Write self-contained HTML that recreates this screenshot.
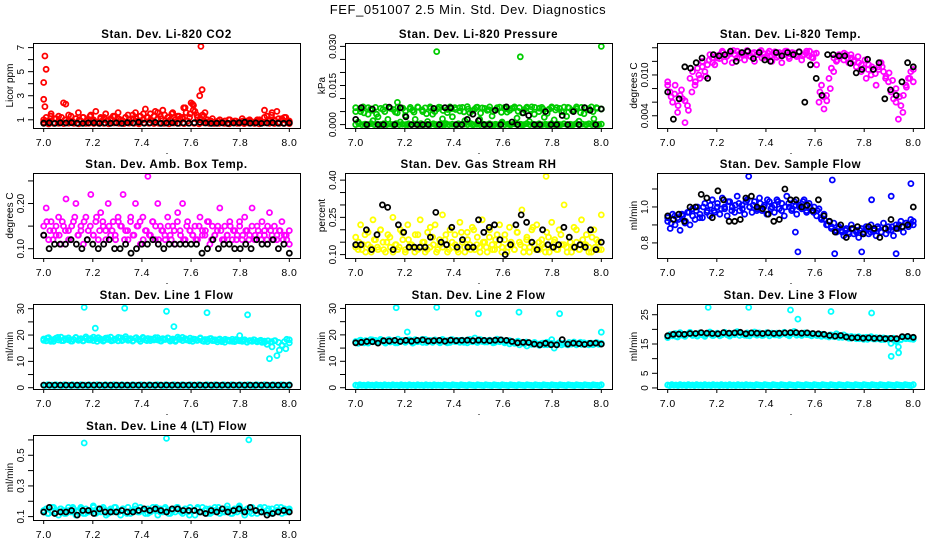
<!DOCTYPE html>
<html><head><meta charset="utf-8">
<style>
html,body{margin:0;padding:0;background:#fff;}
svg{display:block;font-family:"Liberation Sans",Arial,sans-serif;}
</style></head>
<body>
<svg id="chart" width="936" height="540" viewBox="0 0 936 540">
<text x="468" y="14" text-anchor="middle" font-size="13" letter-spacing="0.6">FEF_051007  2.5 Min. Std. Dev. Diagnostics</text>
</svg>
<script>
// ---- x axis ----
const xTicks = [7.0, 7.2, 7.4, 7.6, 7.8, 8.0];
const xTickLabels = ["7.0", "7.2", "7.4", "7.6", "7.8", "8.0"];

// ---- panel 1: CO2 ----
const co2Main = [0.8,1.2,0.9,1.5,0.7,1.1,1.3,0.8,2.4,1.0,0.9,1.3,0.8,1.1,1.6,0.9,1.2,0.7,1.0,1.4,0.9,1.7,0.8,1.2,1.0,1.5,0.9,1.1,1.3,0.8,1.6,1.0,0.9,1.2,1.4,0.8,1.1,1.6,0.9,1.3,1.0,1.9,1.2,1.5,0.9,1.7,1.1,1.3,1.8,0.9,1.2,1.0,1.6,0.8,1.3,1.1,1.2,2.0,0.9,1.5,2.3,1.7,1.2,1.0,1.4,1.6,0.8,0.9,1.1,0.8,0.7,1.0,0.8,0.9,0.7,1.0,0.8,0.9,0.7,0.8,1.1,0.8,0.9,1.0,0.8,0.7,0.9,1.0,0.8,1.8,1.3,0.9,1.6,1.0,1.7,0.8,1.1,1.2,0.9,0.8];
const co2Main2 = [1.0,0.9,1.3,1.1,0.8,1.2,1.0,1.4,0.9,1.1,1.0,1.2,0.9,1.3,1.0,0.8,1.1,1.2,0.9,1.0,1.3,1.1,0.9,1.2,1.0,1.4,1.1,0.9,1.5,1.2,1.0,1.3,1.6,1.1,1.4,1.2,1.5,1.0,1.3,1.1,1.6,1.2,1.8,1.4,1.1,1.3,1.0,0.9,0.8,0.9,0.8,0.9,1.0,0.8,0.9,0.8,0.9,0.8,0.9,0.8,1.0,0.9,1.2,1.0,1.4,0.9,1.1,1.0,1.2,0.9];
const co2Low = [0.7,0.65,0.75,0.7,0.68,0.72,0.7,0.66,0.74,0.7,0.69,0.71,0.7,0.67,0.73,0.7,0.68,0.72,0.7,0.66,0.74,0.7,0.69,0.71,0.7,0.67,0.73,0.7,0.68,0.72,0.7,0.66,0.74,0.7,0.69,0.71,0.7,0.67,0.73,0.7,0.68,0.72,0.7,0.66,0.74,0.7,0.69,0.71,0.7,0.68];
const co2Black = [0.72,0.75,0.7,0.74,0.73,0.76,0.72,0.7,0.74,0.75,0.71,0.73,0.72,0.74,0.7,0.76,0.73,0.8,0.72,0.74,0.78,0.71,0.73,0.75,0.7,0.74,0.72,0.76,0.78,0.73,0.7,0.72,0.74,0.71,0.73,0.75,0.8,0.72,0.74,0.7,0.73,0.76,0.72,0.71,0.74];
const co2OutX = [7.0, 7.005, 7.01, 7.0, 7.005, 7.09, 7.64, 7.645, 7.635, 7.6, 7.57, 7.61];
const co2OutY = [2.7, 6.3, 5.2, 4.1, 2.1, 2.3, 7.1, 3.5, 3.0, 2.4, 2.0, 2.2];

// ---- panel 2: pressure ----
const presMain = [0.0065,0.001,0.005,0.0068,0.0,0.004,0.006,0.0015,0.0066,0.003,0.0,0.0058,0.0068,0.002,0.0062,0.0,0.0048,0.0067,0.001,0.0063,0.0035,0.0,0.0066,0.0055,0.002,0.0068,0.0,0.005,0.0064,0.0012,0.0068,0.004,0.0,0.0061,0.0066,0.0022,0.0,0.0058,0.0068,0.003,0.0065,0.0,0.0052,0.0066,0.0015,0.0069,0.0045,0.0,0.006,0.0067,0.002,0.0064,0.0,0.0055,0.0068,0.0033,0.0,0.0063,0.0067,0.001,0.0066,0.0048,0.0,0.0062,0.0068,0.0025,0.0065,0.0,0.0057,0.0067,0.0012,0.0068,0.004,0.0,0.0063,0.0066,0.0028,0.0,0.0059,0.0068,0.0018,0.0065,0.0,0.005,0.0067,0.0032,0.0064,0.0,0.0056,0.0068,0.0013,0.0066,0.0042,0.0,0.0061,0.0068,0.0022,0.0065,0.0,0.006];
const presMain2 = [0.005,0.006,0.0045,0.0065,0.0055,0.004,0.0062,0.005,0.0066,0.0058,0.0045,0.0064,0.0052,0.006,0.0048,0.0066,0.0056,0.0042,0.0063,0.005,0.0067,0.0054,0.0046,0.0061,0.0058,0.0065,0.0049,0.006,0.0053,0.0066,0.0044,0.0062,0.0057,0.005,0.0065,0.0047,0.006,0.0055,0.0064,0.0051,0.0045,0.0063,0.0058,0.0066,0.005,0.006,0.0043,0.0064,0.0056,0.0062,0.0049,0.0066,0.0053,0.0061,0.0046,0.0065,0.0057,0.005,0.0063,0.006];
const presZero = [0.0,0.0003,0.0,0.0002,0.0,0.0004,0.0,0.0001,0.0,0.0003,0.0,0.0002,0.0,0.0004,0.0,0.0001,0.0,0.0003,0.0,0.0002,0.0,0.0004,0.0,0.0001,0.0,0.0003,0.0,0.0002,0.0,0.0004,0.0,0.0001,0.0,0.0003,0.0,0.0002,0.0,0.0004,0.0,0.0001,0.0,0.0002,0.0,0.0003,0.0,0.0001,0.0,0.0004,0.0,0.0002,0.0,0.0003,0.0,0.0001,0.0,0.0004,0.0,0.0002,0.0,0.0003,0.0,0.0001,0.0,0.0004,0.0,0.0002,0.0,0.0003,0.0,0.0001,0.0,0.0004,0.0,0.0002,0.0,0.0003,0.0,0.0001,0.0,0.0002];
const presBlack = [0.002,0.0065,0.0,0.006,0.0,0.0,0.0067,0.0,0.0065,0.003,0.0,0.0,0.0,0.0,0.0062,0.0,0.0065,0.0065,0.0,0.0,0.002,0.004,0.0015,0.0,0.0,0.0055,0.0,0.0068,0.001,0.0,0.0045,0.0035,0.0,0.0,0.005,0.0,0.0,0.0035,0.0,0.005,0.0,0.0065,0.0055,0.0,0.006];
const presOutX = [7.33, 7.67, 8.0, 7.17];
const presOutY = [0.028, 0.026, 0.030, 0.0085];

// ---- panel 3: Li-820 temp ----
const tempMain = [0.009,0.0075,0.006,0.0085,0.0045,0.007,0.0065,0.003,0.0055,0.0095,0.0105,0.0085,0.011,0.0095,0.012,0.0105,0.0115,0.013,0.0125,0.0115,0.0125,0.013,0.0135,0.012,0.0128,0.0132,0.0118,0.013,0.0135,0.0125,0.013,0.0122,0.0136,0.0128,0.0132,0.012,0.013,0.0134,0.0125,0.0131,0.0128,0.0135,0.012,0.013,0.0126,0.0133,0.0118,0.013,0.0135,0.0124,0.013,0.0132,0.0127,0.0134,0.0122,0.013,0.0135,0.0128,0.0126,0.0131,0.0115,0.006,0.0085,0.005,0.007,0.0095,0.011,0.0125,0.012,0.013,0.0128,0.0122,0.013,0.0118,0.0125,0.012,0.0112,0.0118,0.0105,0.011,0.0095,0.0115,0.01,0.0108,0.0085,0.0112,0.0118,0.0105,0.0098,0.009,0.0075,0.0065,0.006,0.0035,0.0055,0.007,0.0085,0.0095,0.0105,0.009];
const tempMain2 = [0.0085,0.0068,0.0072,0.0055,0.0078,0.0062,0.0048,0.0075,0.009,0.01,0.0112,0.0098,0.0122,0.0118,0.0128,0.0124,0.0133,0.0127,0.0131,0.0136,0.0125,0.0132,0.0129,0.0134,0.0127,0.0133,0.013,0.0136,0.0126,0.0132,0.0129,0.0134,0.0128,0.0131,0.0135,0.0127,0.0133,0.0129,0.0134,0.0128,0.0132,0.0135,0.0125,0.0132,0.0075,0.0068,0.0062,0.008,0.0105,0.0122,0.0129,0.0132,0.0125,0.013,0.0122,0.0127,0.0115,0.0122,0.0108,0.0112,0.0102,0.0108,0.0112,0.0095,0.0103,0.0092,0.008,0.0068,0.0045,0.0082,0.0095,0.0108];
const tempBlack = [0.0075,0.0035,0.0065,0.0112,0.011,0.0118,0.0125,0.0095,0.013,0.0128,0.013,0.0135,0.012,0.0133,0.0135,0.0124,0.0133,0.0122,0.012,0.0133,0.0128,0.0133,0.013,0.0134,0.006,0.0115,0.0095,0.007,0.013,0.013,0.0128,0.0128,0.0117,0.0103,0.0108,0.0123,0.0108,0.0118,0.0065,0.0078,0.007,0.009,0.0118,0.0112];

// ---- panel 4: amb box temp ----
const ambMain = [0.15,0.19,0.12,0.16,0.14,0.13,0.17,0.11,0.15,0.21,0.14,0.12,0.16,0.2,0.13,0.15,0.11,0.17,0.14,0.22,0.13,0.16,0.12,0.18,0.15,0.14,0.2,0.13,0.16,0.12,0.17,0.15,0.22,0.14,0.12,0.16,0.13,0.2,0.15,0.11,0.17,0.14,0.26,0.13,0.16,0.12,0.2,0.15,0.14,0.12,0.17,0.13,0.15,0.11,0.18,0.14,0.2,0.12,0.16,0.14,0.13,0.15,0.12,0.17,0.14,0.13,0.16,0.11,0.15,0.13,0.14,0.19,0.12,0.15,0.13,0.16,0.12,0.14,0.13,0.15,0.12,0.17,0.14,0.13,0.19,0.12,0.15,0.13,0.16,0.14,0.12,0.18,0.13,0.15,0.12,0.14,0.16,0.13,0.12,0.11];
const ambMain2 = [0.13,0.16,0.14,0.12,0.15,0.13,0.16,0.14,0.12,0.15,0.17,0.13,0.14,0.16,0.12,0.15,0.13,0.17,0.14,0.16,0.12,0.15,0.14,0.13,0.16,0.15,0.12,0.14,0.17,0.13,0.15,0.16,0.12,0.14,0.13,0.16,0.15,0.12,0.14,0.13,0.15,0.12,0.14,0.16,0.13,0.12,0.15,0.14,0.13,0.12,0.15,0.13,0.14,0.16,0.12,0.13,0.15,0.14,0.12,0.13,0.15,0.14,0.12,0.16,0.13,0.14,0.12,0.15,0.13,0.14,0.12,0.13,0.15,0.14,0.12,0.13,0.14,0.12,0.13,0.14];
const ambBlack = [0.13,0.1,0.11,0.11,0.11,0.12,0.11,0.1,0.12,0.11,0.1,0.11,0.12,0.1,0.1,0.11,0.09,0.1,0.11,0.11,0.12,0.11,0.1,0.11,0.11,0.11,0.11,0.11,0.11,0.09,0.1,0.12,0.1,0.11,0.11,0.1,0.1,0.11,0.1,0.12,0.11,0.11,0.12,0.1,0.11,0.09];

// ---- panel 5: gas stream RH ----
const rhMain = [0.17,0.12,0.22,0.14,0.11,0.19,0.13,0.24,0.16,0.12,0.2,0.15,0.11,0.18,0.13,0.25,0.14,0.12,0.2,0.16,0.11,0.22,0.14,0.13,0.18,0.12,0.24,0.15,0.11,0.19,0.13,0.17,0.22,0.12,0.14,0.26,0.16,0.11,0.2,0.13,0.18,0.12,0.23,0.15,0.11,0.19,0.14,0.21,0.12,0.17,0.13,0.24,0.15,0.11,0.2,0.14,0.12,0.18,0.22,0.13,0.16,0.11,0.21,0.14,0.12,0.19,0.15,0.28,0.13,0.17,0.11,0.2,0.14,0.22,0.12,0.16,0.13,0.19,0.11,0.23,0.15,0.12,0.2,0.14,0.3,0.13,0.17,0.11,0.21,0.15,0.12,0.24,0.14,0.18,0.13,0.11,0.2,0.16,0.12,0.26];
const rhMain2 = [0.13,0.15,0.12,0.18,0.14,0.11,0.16,0.13,0.2,0.12,0.15,0.17,0.11,0.14,0.13,0.19,0.12,0.16,0.14,0.11,0.18,0.13,0.15,0.12,0.21,0.14,0.11,0.16,0.13,0.18,0.12,0.15,0.14,0.11,0.19,0.13,0.16,0.12,0.2,0.14,0.11,0.15,0.13,0.17,0.12,0.16,0.14,0.11,0.18,0.13,0.15,0.12,0.19,0.14,0.11,0.16,0.13,0.21,0.12,0.15,0.14,0.11,0.17,0.13,0.16,0.12,0.18,0.14,0.11,0.15,0.13,0.2,0.12,0.16,0.14,0.11,0.17,0.13,0.15,0.12];
const rhBlack = [0.14,0.14,0.2,0.12,0.18,0.3,0.29,0.12,0.22,0.19,0.13,0.13,0.13,0.13,0.17,0.27,0.15,0.14,0.21,0.13,0.16,0.13,0.13,0.24,0.19,0.21,0.22,0.16,0.1,0.14,0.22,0.26,0.23,0.15,0.12,0.2,0.14,0.13,0.14,0.21,0.17,0.13,0.14,0.13,0.2,0.12,0.15];
const rhOutX = [7.775];
const rhOutY = [0.415];

// ---- panel 6: sample flow ----
const flowMain = [0.92,0.88,0.96,0.9,0.94,0.87,0.95,0.91,0.97,0.9,0.99,0.93,1.0,0.96,0.94,1.02,0.98,0.95,1.04,0.97,1.0,0.96,1.05,0.99,0.95,1.03,1.0,0.97,1.06,0.98,1.01,0.96,1.04,1.0,0.97,1.03,0.99,1.05,0.98,1.01,0.96,1.03,1.0,0.97,1.04,0.99,1.02,0.95,1.06,1.0,0.98,1.03,0.96,1.01,0.99,1.04,0.97,1.02,0.98,1.0,0.95,0.99,0.93,0.96,0.9,0.92,0.88,0.91,0.86,0.89,0.87,0.84,0.88,0.86,0.9,0.85,0.87,0.83,0.88,0.86,0.89,0.85,0.9,0.87,0.84,0.88,0.86,0.91,0.85,0.89,0.87,0.84,0.9,0.88,0.92,0.86,0.91,0.89,0.93,0.9];
const flowMain2 = [0.94,0.91,0.95,0.93,0.96,0.92,0.97,0.95,0.98,0.94,1.0,0.97,1.01,0.98,1.02,0.99,1.0,1.03,0.98,1.01,1.02,0.99,1.03,1.0,1.01,0.98,1.02,1.0,1.04,0.99,1.01,1.03,0.98,1.0,1.02,0.99,1.01,1.0,1.03,0.98,1.0,0.97,0.98,0.94,0.93,0.9,0.89,0.87,0.88,0.86,0.87,0.85,0.88,0.86,0.87,0.85,0.88,0.86,0.87,0.89,0.86,0.88,0.87,0.89,0.88,0.9,0.89,0.91,0.9,0.92];
const flowBlack = [0.95,0.93,0.96,0.92,1.0,1.0,1.07,1.05,0.94,1.09,1.04,0.92,0.92,0.93,1.05,1.06,1.0,0.99,0.96,0.92,0.93,1.1,1.04,1.04,1.0,1.01,0.98,1.04,0.95,0.92,0.86,0.9,0.83,0.88,0.89,0.85,0.89,0.88,0.83,0.88,0.93,0.88,0.89,0.9,1.0];
const flowOutX = [7.33, 7.67, 7.99, 7.53, 7.68, 7.79, 7.93, 7.52, 7.83, 7.91];
const flowOutY = [1.17, 1.15, 1.13, 0.75, 0.74, 0.75, 0.74, 0.86, 1.04, 1.06];

// ---- shared zero-band readings (lines 1-3) ----
const l1Zero = [1.0,0.8,1.1,0.9,1.0,0.8,1.1,0.9,1.0,0.8,1.1,0.9,1.0,0.8,1.1,0.9,1.0,0.8,1.1,0.9,1.0,0.8,1.1,0.9,1.0,0.8,1.1,0.9,1.0,0.8,1.1,0.9,1.0,0.8,1.1,0.9,1.0,0.8,1.1,0.9,1.0,0.9,0.8,1.1,1.0,0.9,0.8,1.1,1.0,0.9,0.8,1.1,1.0,0.9,0.8,1.1,1.0,0.9,0.8,1.1,1.0,0.9,0.8,1.1,1.0,0.9,0.8,1.1,1.0,0.9,0.8,1.1,1.0,0.9,0.8,1.1,1.0,0.9,0.8,1.1,1.0,0.9,0.8,1.1,1.0,0.9,0.8,1.1,1.0,0.9,0.8,1.1,1.0,0.9,0.8,1.1,1.0,0.9,0.8,1.1,1.0,0.9,0.8,1.1,1.0,0.9,0.8,1.1,1.0,0.9,0.8,1.1,1.0,0.9,0.8,1.1,1.0,0.9,0.8,1.1];
const l2Zero = [1.0,0.8,1.1,0.9,1.0,0.8,1.1,0.9,1.0,0.8,1.1,0.9,1.0,0.8,1.1,0.9,1.0,0.8,1.1,0.9,1.0,0.8,1.1,0.9,1.0,0.8,1.1,0.9,1.0,0.8,1.1,0.9,1.0,0.8,1.1,0.9,1.0,0.8,1.1,0.9,1.0,0.9,0.8,1.1,1.0,0.9,0.8,1.1,1.0,0.9,0.8,1.1,1.0,0.9,0.8,1.1,1.0,0.9,0.8,1.1,1.0,0.9,0.8,1.1,1.0,0.9,0.8,1.1,1.0,0.9,0.8,1.1,1.0,0.9,0.8,1.1,1.0,0.9,0.8,1.1,1.0,0.9,0.8,1.1,1.0,0.9,0.8,1.1,1.0,0.9,0.8,1.1,1.0,0.9,0.8,1.1,1.0,0.9,0.8,1.1,1.0,0.9,0.8,1.1,1.0,0.9,0.8,1.1,1.0,0.9,0.8,1.1,1.0,0.9,0.8,1.1,1.0,0.9,0.8,1.1];
const l3Zero = [1.0,0.8,1.1,0.9,1.0,0.8,1.1,0.9,1.0,0.8,1.1,0.9,1.0,0.8,1.1,0.9,1.0,0.8,1.1,0.9,1.0,0.8,1.1,0.9,1.0,0.8,1.1,0.9,1.0,0.8,1.1,0.9,1.0,0.8,1.1,0.9,1.0,0.8,1.1,0.9,1.0,0.9,0.8,1.1,1.0,0.9,0.8,1.1,1.0,0.9,0.8,1.1,1.0,0.9,0.8,1.1,1.0,0.9,0.8,1.1,1.0,0.9,0.8,1.1,1.0,0.9,0.8,1.1,1.0,0.9,0.8,1.1,1.0,0.9,0.8,1.1,1.0,0.9,0.8,1.1,1.0,0.9,0.8,1.1,1.0,0.9,0.8,1.1,1.0,0.9,0.8,1.1,1.0,0.9,0.8,1.1,1.0,0.9,0.8,1.1,1.0,0.9,0.8,1.1,1.0,0.9,0.8,1.1,1.0,0.9,0.8,1.1,1.0,0.9,0.8,1.1,1.0,0.9,0.8,1.1];

// ---- panel 7: line 1 flow ----
const l1Main = [18.5,17.8,19.0,18.2,17.6,18.8,18.1,19.2,17.9,18.4,18.9,17.7,18.3,19.1,18.0,18.6,17.8,19.3,18.2,18.7,17.9,18.5,19.0,18.1,17.7,18.8,18.3,19.2,18.0,18.5,17.8,18.9,18.2,19.4,18.0,18.6,17.9,18.8,18.3,17.6,19.1,18.2,18.7,17.9,18.4,19.0,18.1,17.8,18.6,18.3,18.9,17.7,18.5,18.0,19.2,18.3,17.9,18.6,18.1,18.8,17.6,18.4,18.0,18.7,17.8,18.3,17.5,18.6,17.9,18.2,17.4,18.5,17.8,17.3,18.1,17.7,18.4,17.5,18.0,19.8,17.6,18.2,17.3,17.9,17.6,18.1,17.4,17.8,17.2,17.7,16.5,11.0,15.5,17.8,12.2,14.3,16.2,17.5,18.4,18.2];
const l1Main2 = [18.0,18.8,17.6,18.4,19.1,17.9,18.6,18.2,17.7,19.0,18.3,17.8,18.7,18.1,19.2,17.6,18.5,18.0,18.9,17.8,18.4,19.1,17.9,18.6,18.2,17.7,19.0,18.3,18.8,17.9,18.5,18.1,19.0,17.7,18.4,18.8,18.0,17.6,18.6,19.1,18.2,17.8,18.5,18.0,18.9,17.6,18.3,18.7,17.9,18.2,17.5,18.4,18.0,17.6,18.3,17.8,18.1,17.4,17.9,18.2,17.6,18.0,17.3,17.8,17.5,17.9,17.2,16.0,14.8,17.0];
const l1Black = [1.0,1.0,1.0,1.0,1.0,1.0,1.0,1.0,1.0,1.0,1.0,1.0,1.0,1.0,1.0,1.0,1.0,1.0,1.0,1.0,1.0,1.0,1.0,1.0,1.0,1.0,1.0,1.0,1.0,1.0,1.0,1.0,1.0,1.0,1.0,1.0,1.0,1.0,1.0,1.0,1.0,1.0,1.0,1.0,1.0];
const l1OutX = [7.165, 7.33, 7.5, 7.665, 7.83, 7.21, 7.53];
const l1OutY = [30.5, 30.2, 29.0, 28.5, 27.7, 22.6, 23.2];

// ---- panel 8: line 2 flow ----
const l2Main = [17.5,16.8,18.0,17.2,17.8,16.9,18.2,17.4,17.9,17.1,18.3,17.6,16.9,18.1,17.3,17.8,17.0,18.4,17.5,17.9,17.2,18.0,17.6,16.9,18.2,17.4,17.8,17.1,18.3,17.5,17.9,17.2,18.1,17.6,17.0,18.3,17.4,17.8,17.1,18.2,17.5,17.9,17.2,18.0,17.6,17.0,18.3,17.4,18.8,17.1,18.2,17.5,17.9,17.3,18.0,17.6,17.1,18.4,17.4,17.8,17.0,17.5,16.6,17.2,16.8,17.4,16.2,17.0,16.6,15.8,16.9,16.4,17.1,16.5,16.0,16.8,16.3,17.2,16.5,18.2,15.0,16.6,17.0,16.2,16.8,16.4,17.1,16.5,17.3,16.2,16.8,16.4,17.0,16.6,16.2,16.9,16.5,17.1,16.4,16.8];
const l2Main2 = [17.2,17.9,17.0,17.6,18.1,17.3,17.8,17.1,18.2,17.5,17.0,17.9,17.4,18.1,17.2,17.7,18.3,17.1,17.6,18.0,17.3,17.8,17.0,18.2,17.5,17.9,17.2,18.1,17.4,17.7,18.2,17.3,17.9,17.0,17.6,18.1,17.4,17.8,17.2,17.6,16.9,17.3,16.7,17.1,16.5,16.9,16.3,16.8,16.4,17.0,16.6,16.2,16.9,16.5,17.2,16.4,16.8,16.3,17.0,16.6];
const l2Black = [17.0,17.2,17.5,17.4,16.9,17.8,17.7,17.9,17.5,17.9,17.6,17.9,18.1,17.7,17.8,17.9,17.6,18.0,17.8,17.9,18.0,17.8,18.0,17.9,17.8,18.0,18.1,17.9,17.5,17.0,17.2,17.1,16.5,16.2,16.8,16.3,16.2,18.2,16.5,16.9,16.7,16.4,16.8,16.9,16.5];
const l2OutX = [7.165, 7.33, 7.5, 7.665, 7.83, 7.21, 8.0];
const l2OutY = [30.3, 30.4, 28.0, 28.6, 28.0, 21.1, 21.0];

// ---- panel 9: line 3 flow ----
const l3Main = [17.5,18.2,17.8,18.6,17.4,18.9,18.0,17.6,18.4,19.0,17.9,18.3,17.7,18.8,18.1,17.6,18.5,19.1,17.9,18.2,18.7,17.8,18.4,19.0,18.1,17.7,18.6,18.2,19.2,17.9,18.5,18.0,18.8,17.8,18.4,19.1,18.0,18.6,17.9,18.3,18.9,17.8,18.5,18.1,18.7,17.9,18.4,19.0,18.2,17.8,18.6,19.3,18.1,18.4,17.9,18.7,18.2,18.5,17.8,18.3,17.9,18.1,17.6,18.2,17.8,17.4,18.0,17.6,18.5,17.3,17.7,18.1,17.4,17.0,17.6,17.2,16.8,17.5,17.1,16.6,17.3,16.9,17.5,16.7,17.2,16.8,16.5,17.1,16.9,16.6,15.2,17.0,16.2,14.0,16.6,17.4,16.8,17.0,16.7,16.9];
const l3Main2 = [17.2,18.0,17.6,18.4,17.9,18.6,18.1,17.8,18.5,18.2,18.8,17.9,18.4,18.1,18.7,18.0,18.5,18.9,18.2,17.9,18.6,18.3,18.8,18.0,18.4,18.7,18.1,18.5,18.9,18.2,18.6,18.0,18.4,18.8,18.1,18.5,17.9,18.3,17.7,18.1,17.5,17.9,17.3,17.6,17.0,17.4,16.8,17.2,16.6,17.0,16.7,17.1,16.5,16.9,16.6,15.8,16.4,17.0,16.8,16.6];
const l3Black = [17.8,18.3,18.4,18.3,18.6,18.6,18.9,18.7,18.6,18.5,18.9,18.7,18.8,19.0,18.5,18.8,18.7,18.6,18.8,18.6,18.7,18.8,18.9,18.9,18.7,18.8,18.6,18.5,18.3,17.9,17.7,17.9,17.4,17.1,17.2,17.0,17.1,16.9,17.0,16.8,16.9,16.8,17.5,17.6,17.3];
const l3OutX = [7.165, 7.33, 7.5, 7.53, 7.665, 7.83, 7.91, 7.94];
const l3OutY = [27.5, 27.5, 26.6, 23.5, 26.1, 25.6, 10.8, 12.0];

// ---- panel 10: line 4 (LT) flow ----
const l4Main = [0.13,0.15,0.12,0.14,0.16,0.13,0.11,0.15,0.14,0.12,0.16,0.13,0.15,0.11,0.14,0.16,0.12,0.15,0.13,0.14,0.17,0.12,0.15,0.13,0.16,0.14,0.12,0.15,0.13,0.16,0.14,0.11,0.15,0.13,0.16,0.12,0.14,0.15,0.13,0.16,0.14,0.12,0.15,0.13,0.16,0.14,0.11,0.15,0.13,0.16,0.14,0.12,0.15,0.13,0.16,0.14,0.12,0.15,0.13,0.16,0.14,0.11,0.15,0.13,0.16,0.14,0.12,0.15,0.13,0.16,0.14,0.12,0.15,0.13,0.17,0.14,0.12,0.15,0.13,0.16,0.14,0.11,0.15,0.13,0.16,0.14,0.12,0.15,0.13,0.16,0.14,0.12,0.15,0.13,0.16,0.14,0.12,0.15,0.13,0.14];
const l4Main2 = [0.14,0.12,0.16,0.13,0.15,0.12,0.14,0.16,0.13,0.15,0.12,0.14,0.16,0.13,0.15,0.11,0.14,0.16,0.13,0.15,0.12,0.14,0.17,0.13,0.15,0.12,0.14,0.16,0.13,0.15,0.12,0.14,0.16,0.13,0.15,0.11,0.14,0.16,0.13,0.15,0.12,0.14,0.16,0.13,0.15,0.12,0.14,0.17,0.13,0.15,0.12,0.14,0.16,0.13,0.15,0.12,0.14,0.16,0.13,0.15];
const l4Black = [0.13,0.16,0.12,0.13,0.13,0.14,0.11,0.14,0.14,0.12,0.15,0.13,0.13,0.13,0.14,0.13,0.13,0.14,0.15,0.14,0.15,0.14,0.13,0.15,0.15,0.14,0.14,0.14,0.13,0.12,0.14,0.13,0.15,0.13,0.14,0.15,0.13,0.16,0.14,0.13,0.11,0.12,0.13,0.14,0.13];
const l4OutX = [7.165, 7.5, 7.835];
const l4OutY = [0.58, 0.61, 0.60];

// ---- y ticks ----
const co2Ticks=[1,2,3,4,5,6,7], co2Labels=["1","","3","","5","","7"];
const presTicks=[0,0.005,0.01,0.015,0.02,0.025,0.03], presLabels=["0.000","","","0.015","","","0.030"];
const tempTicks=[0.004,0.006,0.008,0.010,0.012,0.014], tempLabels=["0.004","","","0.010","",""];
const ambTicks=[0.10,0.15,0.20,0.25], ambLabels=["0.10","","0.20",""];
const rhTicks=[0.10,0.15,0.20,0.25,0.30,0.35,0.40], rhLabels=["0.10","","","0.25","","","0.40"];
const flowTicks=[0.8,0.9,1.0,1.1], flowLabels=["0.8","","1.0",""];
const l12Ticks=[0,5,10,15,20,25,30], l12Labels=["0","","10","","20","","30"];
const l3Ticks=[0,5,10,15,20,25], l3Labels=["0","5","","15","","25"];
const l4Ticks=[0.1,0.2,0.3,0.4,0.5,0.6], l4Labels=["0.1","","0.3","","0.5",""];

const NS="http://www.w3.org/2000/svg";
const svg=document.getElementById('chart');
function mk(tag,attrs,parent){const e=document.createElementNS(NS,tag);for(const k in attrs)e.setAttribute(k,attrs[k]);(parent||svg).appendChild(e);return e;}

const colX=[33,345,657], rowY=[43,173,304,435], BW=267, BH=85;

function panel(c,r,name,title,ylab,lo,hi,ticks,labels,layers){
  const g=mk('g',{});
  
  
  const x0=colX[c], y0=rowY[r];
  const xs=v=>x0+BW*(0.04+0.92*(v-7));
  const ys=v=>y0+BH-BH*(0.04+0.92*(v-lo)/(hi-lo));
  const t=mk('text',{x:x0+BW/2,y:y0-5,'text-anchor':'middle','font-size':'11.5','font-weight':'bold','letter-spacing':'0.6'},g);
  t.textContent=title;
  
  
  const clip='clip-'+name;
  const cp=mk('clipPath',{id:clip},g);
  mk('rect',{x:x0,y:y0,width:BW,height:BH},cp);
  const pts=mk('g',{'clip-path':'url(#'+clip+')',fill:'none','stroke-width':'1.8'},g);
  
  
  layers.forEach(L=>{
    const vals=L.y;
    vals.forEach((v,i)=>{
      const xv=L.x?L.x[i]:7+i/(vals.length-1);
      const ci=mk('circle',{cx:xs(xv).toFixed(1),cy:ys(v).toFixed(1),r:'2.5',stroke:L.col},pts);
      
      
    });
  });
  const box=mk('rect',{x:x0+0.5,y:y0+0.5,width:BW,height:BH,fill:'none',stroke:'#000','stroke-width':'1'},g);
  
  
  const xa=mk('g',{},g);
  
  
  xTicks.forEach((v,i)=>{
    const x=xs(v);
    mk('line',{x1:x,x2:x,y1:y0+BH,y2:y0+BH+4,stroke:'#000'},xa);
    const tl=mk('text',{x:x,y:y0+BH+18,'text-anchor':'middle','font-size':'10.5','letter-spacing':'0.4'},xa);
    tl.textContent=xTickLabels[i];
  });
  mk('rect',{x:x0+BW/2,y:y0+BH+25,width:1,height:1,fill:'#000'},xa);
  const ya=mk('g',{},g);
  
  
  ticks.forEach((v,i)=>{
    const y=ys(v);
    mk('line',{x1:x0-5,x2:x0,y1:y,y2:y,stroke:'#000'},ya);
    if(labels[i]){
      const tl=mk('text',{x:0,y:0,'text-anchor':'middle','font-size':'10',transform:`translate(${x0-9},${y}) rotate(-90)`},ya);
      tl.textContent=labels[i];
    }
  });
  const yl=mk('text',{x:0,y:0,'text-anchor':'middle','font-size':'10',transform:`translate(${x0-20},${y0+BH/2}) rotate(-90)`},g);
  yl.textContent=ylab;
  
  
}

const RED='#ff0000',GRN='#00cc00',MAG='#ff00ff',YEL='#ffff00',BLU='#0000ff',CYN='#00ffff',BLK='#000000';
panel(0,0,'co2','Stan. Dev. Li-820 CO2','Licor ppm',0.6,7.1,co2Ticks,co2Labels,
  [{y:co2Low,col:RED},{y:co2Main,col:RED},{y:co2Main2,col:RED},{x:co2OutX,y:co2OutY,col:RED},{y:co2Black,col:BLK}]);
panel(1,0,'pressure','Stan. Dev. Li-820 Pressure','kPa',0,0.030,presTicks,presLabels,
  [{y:presZero,col:GRN},{y:presMain,col:GRN},{y:presMain2,col:GRN},{x:presOutX,y:presOutY,col:GRN},{y:presBlack,col:BLK}]);
panel(2,0,'li820-temp','Stan. Dev. Li-820 Temp.','degrees C',0.0027,0.0142,tempTicks,tempLabels,
  [{y:tempMain,col:MAG},{y:tempMain2,col:MAG},{y:tempBlack,col:BLK}]);
panel(0,1,'amb-box-temp','Stan. Dev. Amb. Box Temp.','degrees C',0.087,0.26,ambTicks,ambLabels,
  [{y:ambMain,col:MAG},{y:ambMain2,col:MAG},{y:ambBlack,col:BLK}]);
panel(1,1,'gas-stream-rh','Stan. Dev. Gas Stream RH','percent',0.10,0.415,rhTicks,rhLabels,
  [{y:rhMain,col:YEL},{y:rhMain2,col:YEL},{x:rhOutX,y:rhOutY,col:YEL},{y:rhBlack,col:BLK}]);
panel(2,1,'sample-flow','Stan. Dev. Sample Flow','ml/min',0.735,1.17,flowTicks,flowLabels,
  [{y:flowMain,col:BLU},{y:flowMain2,col:BLU},{x:flowOutX,y:flowOutY,col:BLU},{y:flowBlack,col:BLK}]);
panel(0,2,'line1-flow','Stan. Dev. Line 1 Flow','ml/min',0.8,30.5,l12Ticks,l12Labels,
  [{y:l1Zero,col:CYN},{y:l1Main,col:CYN},{y:l1Main2,col:CYN},{x:l1OutX,y:l1OutY,col:CYN},{y:l1Black,col:BLK}]);
panel(1,2,'line2-flow','Stan. Dev. Line 2 Flow','ml/min',0.8,30.4,l12Ticks,l12Labels,
  [{y:l2Zero,col:CYN},{y:l2Main,col:CYN},{y:l2Main2,col:CYN},{x:l2OutX,y:l2OutY,col:CYN},{y:l2Black,col:BLK}]);
panel(2,2,'line3-flow','Stan. Dev. Line 3 Flow','ml/min',0.8,27.5,l3Ticks,l3Labels,
  [{y:l3Zero,col:CYN},{y:l3Main,col:CYN},{y:l3Main2,col:CYN},{x:l3OutX,y:l3OutY,col:CYN},{y:l3Black,col:BLK}]);
panel(0,3,'line4-flow','Stan. Dev. Line 4 (LT) Flow','ml/min',0.1,0.61,l4Ticks,l4Labels,
  [{y:l4Main,col:CYN},{y:l4Main2,col:CYN},{x:l4OutX,y:l4OutY,col:CYN},{y:l4Black,col:BLK}]);
</script>
</body></html>
